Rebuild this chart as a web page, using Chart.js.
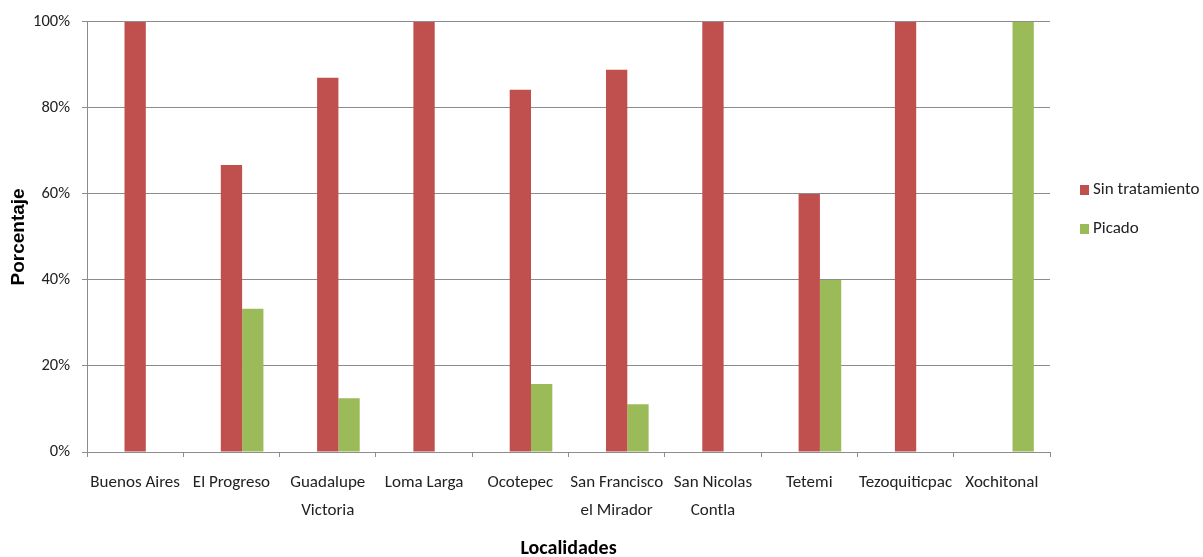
<!DOCTYPE html>
<html>
<head>
<meta charset="utf-8">
<script src="https://cdn.jsdelivr.net/npm/chart.js@4/dist/chart.umd.min.js"></script>
<style>
html,body{margin:0;padding:0;background:#fff;}
#wrap{width:1203px;height:557px;position:relative;}
</style>
</head>
<body>
<div id="wrap"><canvas id="c" width="1203" height="557"></canvas></div>
<script>
const categories = [
  'Buenos Aires', 'El Progreso', ['Guadalupe', 'Victoria'], 'Loma Larga', 'Ocotepec',
  ['San Francisco', 'el Mirador'], ['San Nicolas', 'Contla'], 'Tetemi', 'Tezoquiticpac', 'Xochitonal'
];
const emptySeries = [null, null, null, null, null, null, null, null, null, null];
const sinTratamiento = [100, 66.7, 87, 100, 84.2, 88.9, 100, 60, 100, 0];
const picado = [0, 33.3, 12.5, 0, 15.8, 11.1, 0, 40, 0, 100];
const yTicks = [0, 20, 40, 60, 80, 100];
const seriesNames = ['Sin tratamiento', 'Picado'];
const seriesColors = ['#C0504D', '#9BBB59'];

const FONT = "Carlito, 'Liberation Sans Narrow', 'Open Sans', sans-serif";

const legendPlugin = {
  id: 'customLegend',
  afterDraw(chart) {
    const ctx = chart.ctx;
    ctx.save();
    ctx.font = "17px " + FONT;
    ctx.textBaseline = 'middle';
    ctx.textAlign = 'left';
    const ys = [190, 229];
    seriesNames.forEach((n, i) => {
      ctx.fillStyle = seriesColors[i];
      ctx.fillRect(1080, ys[i] - 5, 9, 10);
      ctx.fillStyle = '#222';
      ctx.fillText(n, 1093, ys[i]);
    });
    ctx.restore();
  }
};

new Chart(document.getElementById('c'), {
  type: 'bar',
  data: {
    labels: categories,
    datasets: [
      { label: '', data: emptySeries, backgroundColor: 'rgba(0,0,0,0)' },
      { label: seriesNames[0], data: sinTratamiento, backgroundColor: seriesColors[0] },
      { label: seriesNames[1], data: picado, backgroundColor: seriesColors[1] }
    ]
  },
  options: {
    responsive: false,
    animation: false,
    devicePixelRatio: 1,
    layout: { padding: { top: 21, right: 153, bottom: 0, left: 0 } },
    datasets: { bar: { categoryPercentage: 0.664, barPercentage: 1.0, borderWidth: 0 } },
    plugins: { legend: { display: false }, tooltip: { enabled: false } },
    scales: {
      x: {
        grid: { display: true, drawOnChartArea: false, offset: true, color: '#8c8c8c', tickLength: 5 },
        border: { display: true, color: '#8c8c8c' },
        ticks: { color: '#222', font: { family: FONT, size: 17, lineHeight: 1.65 }, padding: 12, maxRotation: 0, autoSkip: false },
        title: { display: true, text: 'Localidades', color: '#000', font: { family: FONT, size: 20, weight: 'bold' }, padding: { top: 0, bottom: -4 } },
        afterFit(s) { s.height = 105; }
      },
      y: {
        min: 0, max: 100,
        afterBuildTicks(s) { s.ticks = yTicks.map(v => ({ value: v })); },
        grid: { color: '#8c8c8c', tickLength: 5 },
        border: { display: true, color: '#8c8c8c' },
        ticks: { color: '#222', font: { family: FONT, size: 16.5 }, padding: 12, callback: v => v + '%' },
        title: { display: true, text: 'Porcentaje', color: '#000', font: { family: "'Liberation Sans', Arial, sans-serif", size: 19, weight: 'bold' }, padding: { top: 7, bottom: 0 } },
        afterFit(s) { s.width = 87; }
      }
    }
  },
  plugins: [legendPlugin]
});
</script>
</body>
</html>
